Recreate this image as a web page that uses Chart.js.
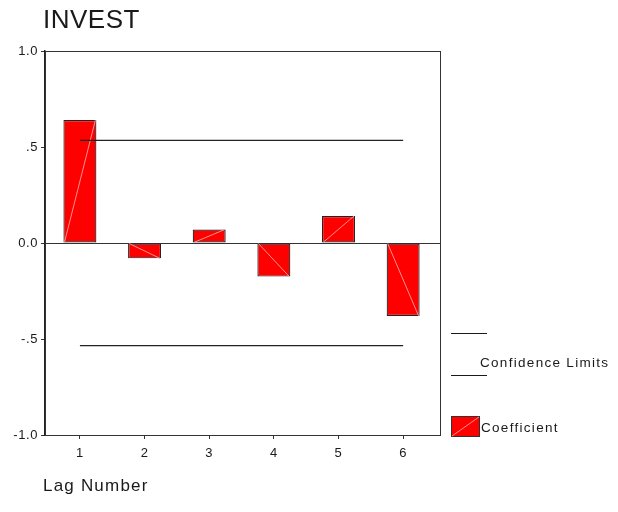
<!DOCTYPE html>
<html>
<head>
<meta charset="utf-8">
<script src="https://cdn.jsdelivr.net/npm/chart.js@4/dist/chart.umd.min.js"></script>
<style>
  html, body { margin: 0; padding: 0; background: #fff; }
  #wrap { width: 618px; height: 512px; }
</style>
</head>
<body>
<div id="wrap"><canvas id="acf" width="618" height="512"></canvas></div>
<script>
// --- data ---
const chartTitle = 'INVEST';
const xAxisTitle = 'Lag Number';
const lags = [1, 2, 3, 4, 5, 6];
const coefficients = [0.64, -0.08, 0.07, -0.175, 0.14, -0.38];
const upperLimit = [0.535, 0.535, 0.535, 0.535, 0.535, 0.535];
const lowerLimit = [-0.535, -0.535, -0.535, -0.535, -0.535, -0.535];
const yTicks = [-1, -0.5, 0, 0.5, 1];
const yTickLabels = ['-1.0', '-.5', '0.0', '.5', '1.0'];
const legendLimits = 'Confidence Limits';
const legendCoef = 'Coefficient';

const FONT = 'Arial, "Liberation Sans", sans-serif';
const INK = '#1a1a1a';
const BAR_RED = '#ff0000';

Chart.defaults.font.family = FONT;
Chart.defaults.color = INK;

const toPoints = (vals) => lags.map((x, i) => ({ x: x, y: vals[i] }));

// frame, title, x title and the hand-made legend
const decorPlugin = {
    id: 'decor',
    beforeDraw: (chart) => {
        // the old output spaces its glyphs out a little
        chart.ctx.letterSpacing = '0.6px';
    },
    afterDatasetDraw: (chart, args) => {
        // faint diagonal inside each bar (fill artifact in the original)
        if (args.meta.type !== 'bar') return;
        const ctx = chart.ctx;
        ctx.save();
        ctx.strokeStyle = 'rgba(255,160,160,0.9)';
        ctx.lineWidth = 1;
        args.meta.data.forEach(bar => {
            const p = bar.getProps(['x', 'y', 'base', 'width'], true);
            const l = p.x - p.width / 2 + 1, r = p.x + p.width / 2 - 1;
            ctx.beginPath();
            ctx.moveTo(l, p.base);
            ctx.lineTo(r, p.y);
            ctx.stroke();
        });
        ctx.restore();
    },
    afterDraw: (chart) => {
        const ctx = chart.ctx;
        const a = chart.chartArea;
        ctx.save();

        // plot frame
        ctx.strokeStyle = '#333';
        ctx.lineWidth = 1;
        ctx.strokeRect(a.left + 0.5, a.top + 0.5, a.right - a.left, a.bottom - a.top);

        // title
        ctx.fillStyle = INK;
        ctx.textBaseline = 'alphabetic';
        ctx.textAlign = 'left';
        ctx.font = '26px ' + FONT;
        ctx.letterSpacing = '0.5px';
        ctx.fillText(chartTitle, 43, 28);

        // x axis title
        ctx.font = '17px ' + FONT;
        ctx.letterSpacing = '1.2px';
        ctx.fillText(xAxisTitle, 43, 491);

        // legend
        const lx = a.right + 11;
        ctx.strokeStyle = INK;
        ctx.beginPath();
        ctx.moveTo(lx, 333.5); ctx.lineTo(lx + 36, 333.5);
        ctx.moveTo(lx, 375.5); ctx.lineTo(lx + 36, 375.5);
        ctx.stroke();
        ctx.font = '13.5px ' + FONT;
        ctx.letterSpacing = '1.3px';
        ctx.fillText(legendLimits, lx + 29, 367);

        ctx.fillStyle = BAR_RED;
        ctx.fillRect(lx, 416, 28, 20);
        ctx.strokeStyle = '#333';
        ctx.strokeRect(lx + 0.5, 416.5, 28, 20);
        ctx.strokeStyle = 'rgba(255,160,160,0.9)';
        ctx.beginPath();
        ctx.moveTo(lx + 1, 436); ctx.lineTo(lx + 28, 417);
        ctx.stroke();
        ctx.fillStyle = INK;
        ctx.fillText(legendCoef, lx + 30, 432);

        ctx.restore();
    }
};

new Chart(document.getElementById('acf'), {
    type: 'bar',
    data: {
        datasets: [
            {
                type: 'line',
                label: 'Upper',
                data: toPoints(upperLimit),
                borderColor: '#222',
                borderWidth: 1.2,
                pointRadius: 0,
                fill: false
            },
            {
                type: 'line',
                label: 'Lower',
                data: toPoints(lowerLimit),
                borderColor: '#222',
                borderWidth: 1.2,
                pointRadius: 0,
                fill: false
            },
            {
                type: 'bar',
                label: 'Coefficient',
                data: toPoints(coefficients),
                backgroundColor: BAR_RED,
                borderColor: '#222',
                borderWidth: 1.2,
                borderSkipped: false,
                barPercentage: 0.51,
                categoryPercentage: 1
            }
        ]
    },
    options: {
        responsive: false,
        animation: false,
        layout: { padding: { left: 0, top: 51, right: 178, bottom: 0 } },
        plugins: {
            legend: { display: false },
            title: { display: false },
            tooltip: { enabled: false }
        },
        scales: {
            x: {
                type: 'linear',
                offset: false,
                min: 0.46,
                max: 6.57,
                afterBuildTicks: s => { s.ticks = lags.map(v => ({ value: v })); },
                afterFit: s => { s.height = 77; },
                ticks: {
                    autoSkip: false,
                    maxRotation: 0,
                    padding: 7,
                    color: INK,
                    font: { size: 13 },
                    callback: v => String(v)
                },
                grid: { offset: false, drawOnChartArea: false, tickLength: 4, tickColor: '#333' },
                border: { color: '#333', width: 1 }
            },
            y: {
                min: -1,
                max: 1,
                afterBuildTicks: s => { s.ticks = yTicks.map(v => ({ value: v })); },
                afterFit: s => { s.width = 45; },
                ticks: {
                    padding: 3,
                    color: INK,
                    font: { size: 13 },
                    callback: v => yTickLabels[yTicks.indexOf(v)]
                },
                grid: {
                    color: c => (c.tick && c.tick.value === 0 ? '#333' : 'transparent'),
                    tickColor: '#333',
                    tickLength: 4
                },
                border: { color: '#222', width: 1.5 }
            }
        }
    },
    plugins: [decorPlugin]
});
</script>
</body>
</html>
